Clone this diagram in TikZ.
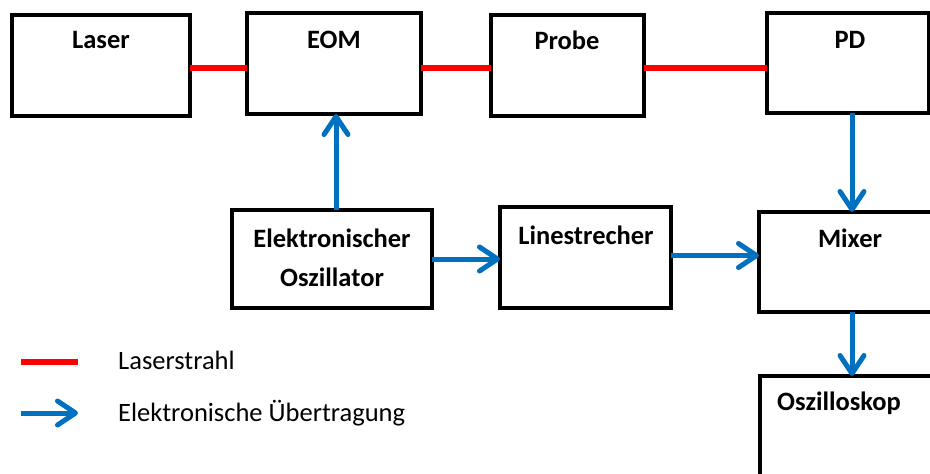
\documentclass[tikz,border=0pt]{standalone}
\usepackage{fontspec}
\setmainfont{Carlito}
\usetikzlibrary{arrows.meta}
\definecolor{beam}{HTML}{FF0000}
\definecolor{sig}{HTML}{0070C0}
\tikzset{
  box/.style={draw=black, line width=3.5pt, rectangle, inner sep=0pt, outer sep=0pt, fill=white},
  lbl/.style={font=\fontsize{26.5}{31}\selectfont\bfseries, inner sep=0pt, anchor=center},
  legtext/.style={font=\fontsize{26.5}{31}\selectfont, inner sep=0pt, anchor=west},
  beamline/.style={draw=beam, line width=6.5pt},
  sigarrow/.style={draw=sig, line width=5pt, -{Straight Barb[length=18pt,width=24pt,round]}},
}
\begin{document}
\begin{tikzpicture}[x=1pt,y=-1pt]
\useasboundingbox (0,0) rectangle (930,474);
\clip (0,0) rectangle (930,474);
% boxes
\node[box, minimum width=178pt, minimum height=101pt] (laser) at (101,65.5) {};
\node[box, minimum width=174pt, minimum height=101pt] (eom) at (334,63.5) {};
\node[box, minimum width=153pt, minimum height=101pt] (probe) at (567.5,65.5) {};
\node[box, minimum width=162pt, minimum height=100pt] (pd) at (848,63) {};
\node[box, minimum width=200pt, minimum height=98pt] (eo) at (332,259) {};
\node[box, minimum width=171pt, minimum height=101pt] (lin) at (585.5,257.5) {};
\node[box, minimum width=191pt, minimum height=100pt] (mixer) at (854.5,262) {};
\node[box, minimum width=190pt, minimum height=124pt] (osz) at (855,438) {};
% labels
\node[lbl] (laser-t) at (101,40) {Laser};
\node[lbl] (eom-t) at (334,40) {EOM};
\node[lbl] (probe-t) at (567,40) {Probe};
\node[lbl] (pd-t) at (850,40) {PD};
\node[lbl] (eo-t1) at (332,238) {Elektronischer};
\node[lbl] (eo-t2) at (332,277) {Oszillator};
\node[lbl] (lin-t) at (586,235) {Linestrecher};
\node[lbl] (mixer-t) at (850,238) {Mixer};
\node[lbl, anchor=west] (osz-t) at (777,403) {Oszilloskop};
% laser beam
\coordinate (ry) at (0,68);
\draw[beamline] (laser.east |- ry) -- (eom.west |- ry);
\draw[beamline] (eom.east |- ry) -- (probe.west |- ry);
\draw[beamline] (probe.east |- ry) -- (pd.west |- ry);
% electronic signals
\draw[sigarrow] ([xshift=4pt]eo.north) -- ([xshift=4pt]eo.north |- eom.south);
\draw[sigarrow] (eo.east) -- (eo.east -| lin.west);
\draw[sigarrow] ([yshift=2pt]lin.east) -- ([yshift=2pt]lin.east -| mixer.west);
\draw[sigarrow] ([xshift=4pt]pd.south) -- ([xshift=4pt]pd.south |- mixer.north);
\draw[sigarrow] ([xshift=-2.5pt]mixer.south) -- ([xshift=-2.5pt]mixer.south |- osz.north);
% legend
\coordinate (lb1) at (21,362);
\coordinate (lb2) at (78,362);
\coordinate (la1) at (21,413);
\coordinate (la2) at (78,413);
\draw[beamline] (lb1) -- (lb2);
\draw[sigarrow] (la1) -- (la2);
\node[legtext] (leg1) at (118,360) {Laserstrahl};
\node[legtext] (leg2) at (118,413) {Elektronische Übertragung};
\end{tikzpicture}
\end{document}
